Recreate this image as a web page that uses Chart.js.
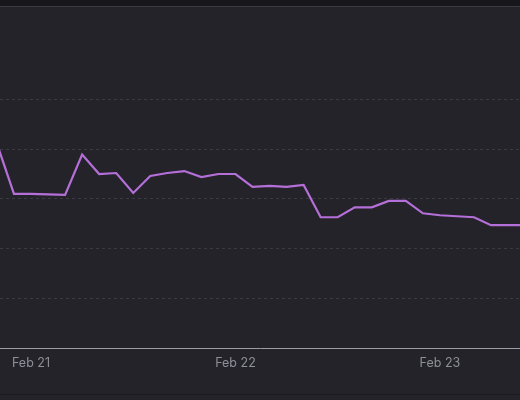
<!DOCTYPE html>
<html>
<head>
<meta charset="utf-8">
<script src="https://cdn.jsdelivr.net/npm/chart.js@4"></script>
<style>
  html, body { margin: 0; padding: 0; background: #232329; }
  body { width: 520px; height: 400px; overflow: hidden; }
  .top { height: 6px; background: #16161b; border-bottom: 1px solid #3a3a42; }
  .wrap { position: relative; width: 520px; height: 387px; border-bottom: 1px solid #1a1a1f; }
</style>
</head>
<body>
<div class="top"></div>
<div class="wrap"><canvas id="grafico"></canvas></div>
<script>
// horas desde Feb 21 00:00
const horas = [-4, -2, 0, 2, 4, 6, 8, 10, 12, 14, 16, 18, 20, 22, 24, 26, 28, 30,
               32, 34, 36, 38, 40, 42, 44, 46, 48, 50, 52, 54, 56, 58];
const valores = [41.1, 31.0, 31.0, 30.9, 30.8, 38.9, 35.0, 35.2, 31.2, 34.6, 35.2, 35.6,
                 34.4, 35.0, 35.0, 32.4, 32.6, 32.4, 32.8, 26.3, 26.3, 28.3, 28.3, 29.6,
                 29.6, 27.1, 26.7, 26.5, 26.3, 24.7, 24.7, 24.7];
const tickHoras = [0, 24, 48];
const tickLabels = ["Feb 21", "Feb 22", "Feb 23"];
const yTicks = [0, 10, 20, 30, 40, 50];

document.addEventListener("DOMContentLoaded", () => {
    const ctx = document.getElementById("grafico").getContext("2d");

    new Chart(ctx, {
        type: "line",
        data: {
            datasets: [{
                data: horas.map((h, i) => ({ x: h, y: valores[i] })),
                borderColor: "#b56fd8",
                borderWidth: 2.2,
                pointRadius: 0,
                tension: 0
            }]
        },
        options: {
            responsive: true,
            maintainAspectRatio: false,
            animation: false,
            layout: { padding: { left: 0, right: 0, top: 0, bottom: 15 } },
            plugins: { legend: { display: false }, tooltip: { enabled: false } },
            scales: {
                x: {
                    type: "linear",
                    min: -3.64,
                    max: 57.4,
                    grid: { display: false, drawTicks: false },
                    border: { display: true, color: "#9d9da8", width: 1 },
                    afterBuildTicks: s => { s.ticks = tickHoras.map(v => ({ value: v })); },
                    ticks: {
                        padding: 8,
                        color: "#8f8f99",
                        font: { family: "Inter", size: 12.5 },
                        maxRotation: 0,
                        autoSkip: false,
                        callback: v => tickLabels[tickHoras.indexOf(v)]
                    }
                },
                y: {
                    min: 0,
                    max: 68.6,
                    afterBuildTicks: s => { s.ticks = yTicks.map(v => ({ value: v })); },
                    ticks: { display: false },
                    border: { display: false, dash: [3, 3] },
                    grid: {
                        drawTicks: false,
                        color: c => c.tick && c.tick.value === 0 ? "transparent" : "#3a3a42",
                        lineWidth: 1
                    }
                }
            }
        }
    });
});
</script>
</body>
</html>
